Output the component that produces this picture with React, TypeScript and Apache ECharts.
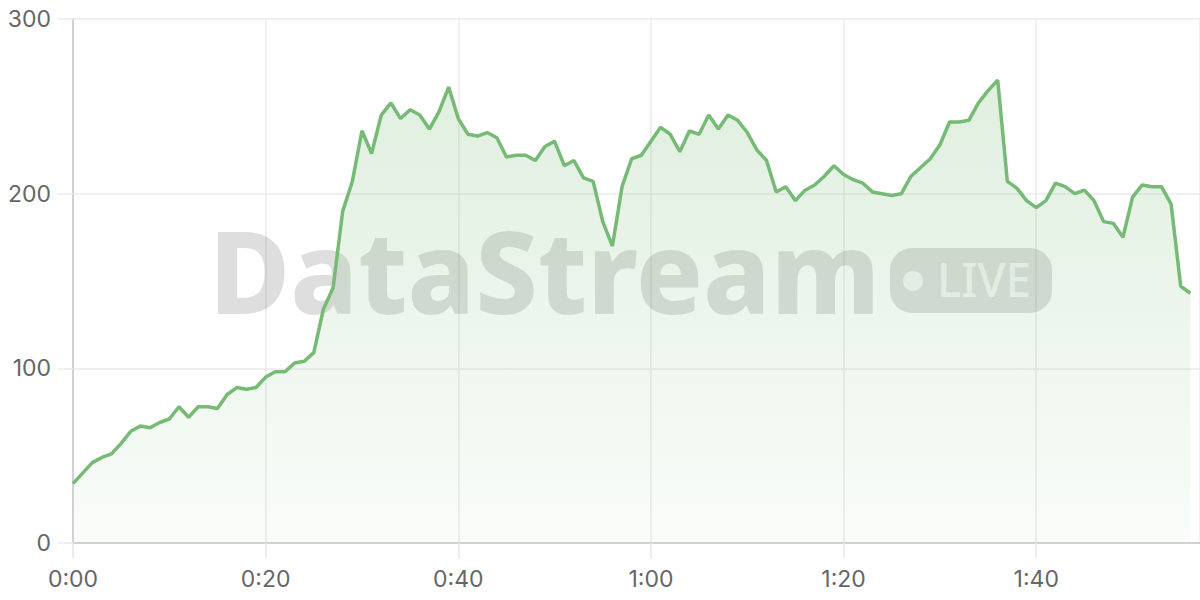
import React, { useEffect, useRef } from "react";
import * as echarts from "echarts";

// seconds since start (one point per second)
const values: number[] = [
  34, 40, 46, 49, 51, 57, 64, 67, 66, 69,
  71, 78, 72, 78, 78, 77, 85, 89, 88, 89,
  95, 98, 98, 103, 104, 109, 134, 146, 190, 207,
  236, 223, 245, 252, 243, 248, 245, 237, 247, 261,
  243, 234, 233, 235, 232, 221, 222, 222, 219, 227,
  230, 216, 219, 209, 207, 184, 170, 204, 220, 222,
  230, 238, 234, 224, 236, 234, 245, 237, 245, 242,
  235, 225, 219, 201, 204, 196, 202, 205, 210, 216,
  211, 208, 206, 201, 200, 199, 200, 210, 215, 220,
  228, 241, 241, 242, 252, 259, 265, 207, 203, 196,
  192, 196, 206, 204, 200, 202, 196, 184, 183, 175,
  198, 205, 204, 204, 194, 147, 143,
];
const seconds: number[] = values.map((_, i) => i);
const yTicks: number[] = [0, 100, 200, 300];
const watermarkText = "DataStream";
const badgeText = "LIVE";

const LINE = "#76ba76";
const FONT = "Inter, 'Noto Sans', sans-serif";

function fmt(v: number): string {
  const m = Math.floor(v / 60);
  const s = Math.round(v % 60);
  return `${m}:${String(s).padStart(2, "0")}`;
}

export default function App() {
  const ref = useRef<HTMLDivElement>(null);
  useEffect(() => {
    if (!ref.current) return;
    const chart = echarts.init(ref.current, undefined, { renderer: "svg" });
    const wm = "rgba(0,0,0,0.13)";
    const wmLight = "rgba(255,255,255,0.72)";
    chart.setOption({
      animation: false,
      grid: { left: 73, right: 0, top: 19, bottom: 57 },
      xAxis: {
        type: "value",
        min: 0,
        max: 117,
        interval: 20,
        axisLine: { show: true, lineStyle: { color: "#d2d2d2", width: 2 } },
        axisTick: { show: true, length: 15, lineStyle: { color: "#e6e6e6", width: 1.5 } },
        splitLine: { show: true, lineStyle: { color: "#ebebeb", width: 1.5 } },
        axisLabel: {
          formatter: (v: number) => fmt(v),
          color: "#666",
          fontSize: 23,
          fontFamily: FONT,
          margin: 24,
          showMaxLabel: false,
        },
      },
      yAxis: {
        type: "value",
        min: yTicks[0],
        max: yTicks[yTicks.length - 1],
        interval: 100,
        axisLine: { show: true, lineStyle: { color: "#d2d2d2", width: 2 } },
        axisTick: { show: true, length: 15, lineStyle: { color: "#ebebeb", width: 1.5 } },
        splitLine: { show: true, lineStyle: { color: "#ebebeb", width: 1.5 } },
        axisLabel: {
          color: "#666",
          fontSize: 23,
          fontFamily: FONT,
          margin: 22,
        },
      },
      graphic: [
        {
          type: "text",
          z: 1,
          x: 209,
          y: 269,
          scaleX: 0.965,
          style: {
            text: watermarkText,
            x: 0,
            y: 0,
            fill: wm,
            font: "800 115px 'Noto Sans'",
            textVerticalAlign: "middle",
          },
        },
        {
          type: "rect",
          z: 1,
          shape: { x: 890, y: 248, width: 162, height: 65, r: 22 },
          style: { fill: wm },
        },
        {
          type: "circle",
          z: 1,
          shape: { cx: 913, cy: 281, r: 10 },
          style: { fill: wmLight },
        },
        {
          type: "text",
          z: 1,
          x: 937,
          y: 279,
          scaleX: 0.95,
          style: {
            text: badgeText,
            x: 0,
            y: 0,
            fill: wmLight,
            font: "500 48px 'Noto Sans'",
            textVerticalAlign: "middle",
          },
        },
      ],
      series: [
        {
          type: "line",
          z: 2,
          data: seconds.map((s, i) => [s, values[i]]),
          showSymbol: false,
          symbol: "none",
          lineStyle: { color: LINE, width: 3.5 },
          itemStyle: { color: LINE },
          areaStyle: {
            color: new echarts.graphic.LinearGradient(0, 0, 0, 1, [
              { offset: 0, color: "rgba(118,186,118,0.33)" },
              { offset: 1, color: "rgba(118,186,118,0.06)" },
            ]),
          },
        },
      ],
    });
    return () => chart.dispose();
  }, []);
  return (
    <div
      ref={ref}
      style={{ position: "absolute", left: 0, top: 0, width: 1200, height: 600, background: "#fff" }}
    />
  );
}
